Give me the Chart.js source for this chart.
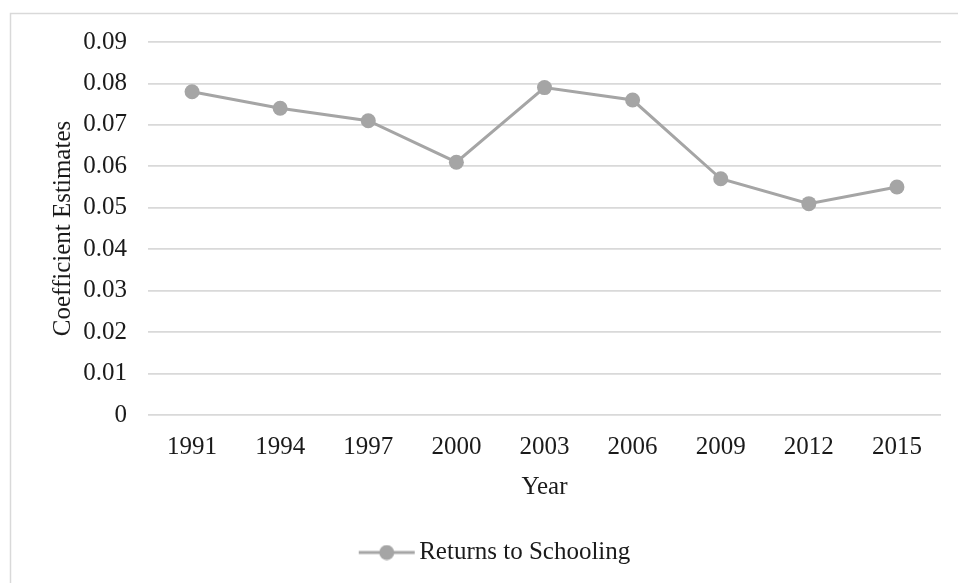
<!DOCTYPE html>
<html>
<head>
<meta charset="utf-8">
<script src="https://cdn.jsdelivr.net/npm/chart.js@4/dist/chart.umd.min.js"></script>
<style>
  html, body { margin: 0; padding: 0; background: #fff; }
  #wrap { width: 958px; height: 583px; position: relative; }
</style>
</head>
<body>
<div id="wrap"><canvas id="main-chart"></canvas></div>
<script>
const years = ["1991","1994","1997","2000","2003","2006","2009","2012","2015"];
const returnsToSchooling = [0.078, 0.074, 0.071, 0.061, 0.079, 0.076, 0.057, 0.051, 0.055];
const yTicks = [0, 0.01, 0.02, 0.03, 0.04, 0.05, 0.06, 0.07, 0.08, 0.09];

const grey = "#A5A5A5";
const textColor = "#1a1a1a";
const serif = "'Liberation Serif', 'DejaVu Serif', serif";
const fontSize = 25;

// legend marker: short line with a dot in the middle,
// drawn in the right half so the legend item sits a bit right of centre like the original
const legendIcon = document.createElement("canvas");
legendIcon.width = 114; legendIcon.height = 16;
{
  const c = legendIcon.getContext("2d");
  c.strokeStyle = grey; c.lineWidth = 3;
  c.beginPath(); c.moveTo(57, 8); c.lineTo(113, 8); c.stroke();
  c.fillStyle = grey;
  c.beginPath(); c.arc(85, 8, 7.5, 0, Math.PI * 2); c.fill();
}

// light frame round the whole chart
const frame = {
  id: "frame",
  beforeDraw(chart) {
    const ctx = chart.ctx;
    ctx.save();
    ctx.strokeStyle = "#D9D9D9";
    ctx.lineWidth = 1.5;
    ctx.strokeRect(10.5, 13.5, chart.width + 20, chart.height + 20);
    ctx.restore();
  }
};

var config = {
  type: "line",
  data: {
    labels: years,
    datasets: [{
      label: "Returns to Schooling",
      data: returnsToSchooling,
      borderColor: grey,
      backgroundColor: grey,
      borderWidth: 3,
      pointRadius: 7.5,
      pointHoverRadius: 7.5,
      pointBackgroundColor: grey,
      pointBorderWidth: 0,
      tension: 0
    }]
  },
  options: {
    responsive: true,
    maintainAspectRatio: false,
    animation: false,
    layout: { padding: { left: 0, top: 42, right: 17, bottom: 8 } },
    plugins: {
      tooltip: { enabled: false },
      legend: {
        position: "bottom",
        labels: {
          usePointStyle: true,
          pointStyle: legendIcon,
          pointStyleWidth: 96,
          color: textColor,
          font: { family: serif, size: fontSize },
          padding: 10
        }
      }
    },
    scales: {
      x: {
        offset: true,
        afterFit: scale => { scale.height = 115; },
        grid: { display: false, drawTicks: false },
        border: { display: false },
        ticks: { color: textColor, font: { family: serif, size: fontSize }, padding: 17, maxRotation: 0 },
        title: { display: true, text: "Year", color: textColor, font: { family: serif, size: fontSize }, padding: { top: 0, bottom: 28 } }
      },
      y: {
        min: 0,
        max: 0.09,
        afterFit: scale => { scale.width = 148; },
        afterBuildTicks: scale => { scale.ticks = yTicks.map(v => ({ value: v })); },
        grid: { color: "#D9D9D9", lineWidth: 1.8, drawTicks: false },
        border: { display: false },
        ticks: {
          color: textColor,
          font: { family: serif, size: fontSize },
          padding: 21,
          callback: v => (v === 0 ? "0" : v.toFixed(2))
        },
        title: { display: true, text: "Coefficient Estimates", color: textColor, font: { family: serif, size: fontSize }, padding: { top: 48, bottom: 0 } }
      }
    }
  },
  plugins: [frame]
};

const myLineChart = new Chart(document.getElementById("main-chart"), config);
</script>
</body>
</html>
